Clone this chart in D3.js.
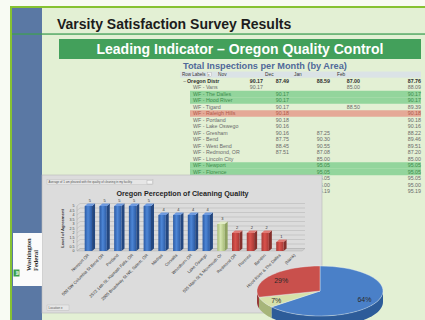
<!DOCTYPE html>
<html>
<head>
<meta charset="utf-8">
<script src="https://cdn.jsdelivr.net/npm/d3@7"></script>
<style>
  html, body { margin: 0; padding: 0; background: #ffffff; overflow: hidden; }
  svg { display: block; font-family: "Liberation Sans", Arial, sans-serif; }
</style>
</head>
<body>
<svg id="slide" width="425" height="320"></svg>
<script>
// ---------- Pivot table: inspections per month by area ----------
const tableMonths = ["Nov", "Dec", "Jan", "Feb"];
// the last three areas sit under the chart panel, so their names are left blank
const tableRowLabels = [
  "Oregon Distr", "WF - Vans", "WF - The Dalles", "WF - Hood River", "WF - Tigard",
  "WF - Raleigh Hills", "WF - Portland", "WF - Lake Oswego", "WF - Gresham", "WF - Bend",
  "WF - West Bend", "WF - Redmond, OR", "WF - Lincoln City", "WF - Newport", "WF - Florence",
  "", "", ""
];
const rowStatus = ["total", "", "high", "high", "", "low", "", "", "", "", "", "", "", "high", "high", "", "", ""];
const novScores   = [90.17, 90.17, null, null, null, null, null, null, null, null, null, null, null, null, null, null, null, null];
const decScores   = [87.49, null, 90.17, 90.17, 90.17, 90.18, 90.18, 90.16, 90.16, 87.75, 88.45, 87.51, null, null, null, null, null, null];
const janScores   = [88.59, null, null, null, null, null, null, null, 87.25, 90.30, 90.55, 87.08, 85.00, 95.05, 95.05, 95.05, 95.00, 95.19];
const febScores   = [87.00, 85.00, null, null, 88.50, null, null, null, null, null, null, null, null, null, null, null, null, null];
const totalScores = [87.76, 88.09, 90.17, 90.17, 89.39, 90.18, 90.18, 90.16, 88.22, 89.46, 89.51, 87.20, 85.00, 95.05, 95.05, 95.05, 95.00, 95.19];

// ---------- Bar chart: perception of cleaning quality ----------
const barCategories = [
  "Newport OR", "500 SW Columbia St Bend OR", "Portland", "2572 14th St, Klamath Falls, OR",
  "2005 Broadway St NE, Salem, OR", "Madras", "Corvallis", "Woodburn OR", "Lake Oswego",
  "535 Main St S Monmouth Or", "Redmond OR", "Florence", "Bandon", "Hood River & The Dalles", "(blank)"
];
const barValues = [5, 5, 5, 5, 5, 4, 4, 4, 4, 3, 2, 2, 2, 1, null];
const agreementTicks = [0, 0.5, 1, 1.5, 2, 2.5, 3, 3.5, 4, 4.5, 5];

// ---------- Pie chart ----------
const pieLabels = ["Agree", "Neutral", "Disagree"];
const pieValues = [64, 7, 29];

const W = 425, H = 320;
const svg = d3.select("#slide");
const defs = svg.append("defs");

// ---------- Slide frame ----------
svg.append("rect").attr("width", W).attr("height", H).attr("fill", "#f8fbf3");
svg.append("rect").attr("x", 11).attr("y", 7).attr("width", W - 11).attr("height", H - 7).attr("fill", "#e3f0d4");
svg.append("rect").attr("x", 10).attr("y", 6).attr("width", W - 10).attr("height", 2).attr("fill", "#86c232");
svg.append("rect").attr("x", 10).attr("y", 6).attr("width", 2).attr("height", H - 6).attr("fill", "#86c232");
svg.append("rect").attr("x", 12).attr("y", 8).attr("width", 30).attr("height", H - 8).attr("fill", "#5a78a4");
svg.append("rect").attr("x", 12).attr("y", 33.4).attr("width", W - 12).attr("height", 1.3).attr("fill", "#3f9e55");

svg.append("text").attr("x", 57).attr("y", 29)
  .attr("font-size", 14).attr("font-weight", "bold").attr("fill", "#1c1c1c")
  .text("Varsity Satisfaction Survey Results");

svg.append("rect").attr("x", 59).attr("y", 39).attr("width", 362).attr("height", 20).attr("fill", "#43a05b");
svg.append("text").attr("x", 240).attr("y", 54).attr("text-anchor", "middle")
  .attr("font-size", 14).attr("font-weight", "bold").attr("fill", "#ffffff")
  .text("Leading Indicator \u2013 Oregon Quality Control");

svg.append("text").attr("x", 183).attr("y", 68.5)
  .attr("font-size", 9.2).attr("font-weight", "bold").attr("fill", "#50699a")
  .text("Total Inspections per Month (by Area)");

// ---------- Pivot table ----------
const rowIndex = d3.range(tableRowLabels.length);
const yRow = d3.scaleBand().domain(rowIndex).range([77.75, 77.75 + 6.5 * rowIndex.length]);
const valueCols = [...tableMonths, "Total"];
const colRight = d3.scaleOrdinal().domain(valueCols).range([263, 289, 330, 360, 421]);
const headLeft = d3.scaleOrdinal().domain(tableMonths).range([218, 265, 294, 337]);
const scoreByCol = { Nov: novScores, Dec: decScores, Jan: janScores, Feb: febScores, Total: totalScores };
const bandFill = { high: "#93d59c", low: "#e5a997" };
const textFill = { high: "#3e8d4c", low: "#b15a4c", total: "#2e2e2e", "": "#6a6a6a" };

const table = svg.append("g").attr("font-size", 5.3);
table.append("rect").attr("x", 180).attr("y", 71.5).attr("width", 241).attr("height", 6.2).attr("fill", "#dbe3e6");
table.append("text").attr("x", 182).attr("y", 76.4).attr("font-size", 4.5).attr("fill", "#333").text("Row Labels");
table.append("rect").attr("x", 207.3).attr("y", 72.4).attr("width", 4.2).attr("height", 4.2)
  .attr("fill", "#f4f4f4").attr("stroke", "#999").attr("stroke-width", 0.3);
table.append("text").attr("x", 209.4).attr("y", 75.9).attr("font-size", 3.4).attr("text-anchor", "middle").attr("fill", "#555").text("\u25BE");
table.selectAll("text.head").data(tableMonths).join("text").attr("class", "head")
  .attr("x", d => headLeft(d)).attr("y", 76.4).attr("font-size", 4.8).attr("fill", "#333").text(d => d);

const rows = table.selectAll("g.row").data(rowIndex).join("g").attr("class", "row");
rows.filter(i => bandFill[rowStatus[i]])
  .append("rect").attr("x", 190).attr("y", i => yRow(i)).attr("width", 231).attr("height", yRow.bandwidth())
  .attr("fill", i => bandFill[rowStatus[i]]);
rows.filter(i => tableRowLabels[i] !== "").append("text")
  .attr("x", i => i === 0 ? 187 : 193)
  .attr("y", i => yRow(i) + 5)
  .attr("font-weight", i => i === 0 ? "bold" : "normal")
  .attr("fill", i => textFill[rowStatus[i]])
  .text(i => tableRowLabels[i]);
rows.filter(i => i === 0).append("text").attr("x", 183).attr("y", i => yRow(i) + 5)
  .attr("fill", "#444").text("\u2212");
valueCols.forEach(col => {
  rows.filter(i => scoreByCol[col][i] != null)
    .append("text")
    .attr("x", colRight(col)).attr("y", i => yRow(i) + 5)
    .attr("text-anchor", "end")
    .attr("font-weight", i => i === 0 ? "bold" : "normal")
    .attr("fill", i => textFill[rowStatus[i]])
    .text(i => scoreByCol[col][i].toFixed(2));
});

// ---------- Bar chart panel ----------
const panel = svg.append("g");
panel.append("rect").attr("x", 42).attr("y", 175).attr("width", 280).attr("height", 138)
  .attr("fill", "#dcdcdc").attr("stroke", "#b8b8b8").attr("stroke-width", 0.6);
panel.append("rect").attr("x", 47).attr("y", 179.5).attr("width", 106).attr("height", 5.2)
  .attr("fill", "#e6e6e6").attr("stroke", "#ababab").attr("stroke-width", 0.3);
panel.append("text").attr("x", 48.5).attr("y", 183.2).attr("font-size", 2.9).attr("fill", "#555")
  .text("Average of 1 am pleased with the quality of cleaning in my facility.");
panel.append("rect").attr("x", 147).attr("y", 180.2).attr("width", 5.4).attr("height", 3.8)
  .attr("fill", "#f3f3f3").attr("stroke", "#999").attr("stroke-width", 0.3);
panel.append("text").attr("x", 182.5).attr("y", 196).attr("text-anchor", "middle")
  .attr("font-size", 7.2).attr("font-weight", "bold").attr("fill", "#262626")
  .text("Oregon Perception of Cleaning Quality");
panel.append("rect").attr("x", 47).attr("y", 305).attr("width", 22).attr("height", 5.2)
  .attr("fill", "#e6e6e6").attr("stroke", "#ababab").attr("stroke-width", 0.3);
panel.append("text").attr("x", 48.5).attr("y", 309).attr("font-size", 3.1).attr("fill", "#555").text("Location \u25BE");

const xBar = d3.scaleBand().domain(barCategories).range([81, 302]).paddingInner(0.5).paddingOuter(0.25);
const yBar = d3.scaleLinear().domain([0, 5]).range([251, 206]);
const dx = 3, dy = -2.5, axisX = 77, wallRight = 305;

// floor and back wall grid
panel.append("path")
  .attr("d", `M${axisX},${yBar(0)} L${wallRight - dx},${yBar(0)} L${wallRight},${yBar(0) + dy} L${axisX + dx},${yBar(0) + dy} Z`)
  .attr("fill", "#cfcfcf").attr("stroke", "#a9a9a9").attr("stroke-width", 0.4);
panel.selectAll("path.grid").data(agreementTicks).join("path").attr("class", "grid")
  .attr("d", v => `M${axisX},${yBar(v)} L${axisX + dx},${yBar(v) + dy} L${wallRight},${yBar(v) + dy}`)
  .attr("fill", "none").attr("stroke", "#b3b3b3").attr("stroke-width", 0.5);
panel.append("line").attr("x1", axisX).attr("x2", axisX).attr("y1", yBar(5)).attr("y2", yBar(0))
  .attr("stroke", "#a0a0a0").attr("stroke-width", 0.5);
panel.selectAll("text.ytick").data(agreementTicks).join("text").attr("class", "ytick")
  .attr("x", axisX - 2.5).attr("y", v => yBar(v) + 1.2).attr("text-anchor", "end")
  .attr("font-size", 3.6).attr("fill", "#444").text(v => d3.format("~g")(v));
panel.append("text").attr("transform", `translate(64,${(yBar(0) + yBar(5)) / 2}) rotate(-90)`)
  .attr("text-anchor", "middle").attr("font-size", 4.2).attr("font-weight", "bold").attr("fill", "#333")
  .text("Level of Agreement");

// bar colours by score band
const barTone = v => v >= 4 ? "blue" : v >= 3 ? "green" : "red";
const tones = {
  blue:  { edge: "#2b5aa3", mid: "#4d86d6", side: "#24477f", top: "#6f9be0" },
  green: { edge: "#a7bd76", mid: "#d6e4b0", side: "#8fa262", top: "#e2ecc6" },
  red:   { edge: "#a93a36", mid: "#d9524c", side: "#85302c", top: "#e07a74" }
};
Object.entries(tones).forEach(([k, t]) => {
  const g = defs.append("linearGradient").attr("id", "bar-" + k).attr("x1", 0).attr("x2", 1).attr("y1", 0).attr("y2", 0);
  g.append("stop").attr("offset", 0).attr("stop-color", t.edge);
  g.append("stop").attr("offset", 0.45).attr("stop-color", t.mid);
  g.append("stop").attr("offset", 1).attr("stop-color", t.edge);
});

const barData = barCategories.map((c, i) => ({ c, v: barValues[i] })).filter(d => d.v != null);
const bars = panel.selectAll("g.bar").data(barData).join("g").attr("class", "bar");
const bw = xBar.bandwidth();
bars.append("path")
  .attr("d", d => {
    const x = xBar(d.c), yt = yBar(d.v), yb = yBar(0);
    return `M${x + bw},${yt} L${x + bw + dx},${yt + dy} L${x + bw + dx},${yb + dy} L${x + bw},${yb} Z`;
  })
  .attr("fill", d => tones[barTone(d.v)].side);
bars.append("rect")
  .attr("x", d => xBar(d.c)).attr("y", d => yBar(d.v))
  .attr("width", bw).attr("height", d => yBar(0) - yBar(d.v))
  .attr("fill", d => `url(#bar-${barTone(d.v)})`);
bars.append("path")
  .attr("d", d => {
    const x = xBar(d.c), yt = yBar(d.v);
    return `M${x},${yt} L${x + dx},${yt + dy} L${x + bw + dx},${yt + dy} L${x + bw},${yt} Z`;
  })
  .attr("fill", d => tones[barTone(d.v)].top);
bars.append("text")
  .attr("x", d => xBar(d.c) + bw / 2 + dx / 2).attr("y", d => yBar(d.v) + dy - 1.3)
  .attr("text-anchor", "middle").attr("font-size", 4).attr("fill", "#333")
  .text(d => d.v);

panel.selectAll("text.xcat").data(barCategories).join("text").attr("class", "xcat")
  .attr("transform", d => `translate(${xBar(d) + bw / 2 + 1},${yBar(0) + 4.5}) rotate(-45)`)
  .attr("text-anchor", "end").attr("font-size", 4.2).attr("fill", "#333")
  .text(d => d);

// ---------- Company logo ----------
const logo = svg.append("g");
logo.append("rect").attr("x", 13).attr("y", 233).attr("width", 29).attr("height", 53).attr("fill", "#fbfbfb");
logo.append("rect").attr("x", 13.5).attr("y", 269.5).attr("width", 6).attr("height", 7).attr("fill", "#3c9f4d");
logo.append("text").attr("transform", "translate(18.8,273) rotate(-90)").attr("text-anchor", "middle")
  .attr("font-size", 4.4).attr("font-weight", "bold").attr("fill", "#ffffff").text("W");
logo.append("text").attr("transform", "translate(31,271) rotate(-90)")
  .attr("font-family", "'Liberation Serif', 'DejaVu Serif', serif").attr("font-size", 6.4)
  .attr("font-weight", "bold").attr("fill", "#2e2e2e").text("Washington");
logo.append("text").attr("transform", "translate(38,271) rotate(-90)")
  .attr("font-family", "'Liberation Serif', 'DejaVu Serif', serif").attr("font-size", 6.4)
  .attr("font-weight", "bold").attr("fill", "#2e2e2e").text("Federal");

// ---------- 3D pie ----------
const cx = 320, cy = 291, rx = 63, ry = 25, depth = 11;
const pieTones = [
  { top: "#4a80c8", side: "#2d5c99" },
  { top: "#d6e1ab", side: "#a6b57a" },
  { top: "#c9504c", side: "#953836" }
];
const arcs = d3.pie().sort(null).value(d => d)(pieValues);
const pt = (a, dyy = 0) => [cx + rx * Math.sin(a), cy - ry * Math.cos(a) + dyy];
const edgePts = (a0, a1, dyy = 0) => d3.range(0, 41).map(k => pt(a0 + (a1 - a0) * k / 40, dyy));
const pieG = svg.append("g");
// visible outer walls (lower half of the ellipse)
arcs.forEach((a, i) => {
  const s = Math.max(a.startAngle, Math.PI / 2), e = Math.min(a.endAngle, 3 * Math.PI / 2);
  if (e <= s) return;
  const top = edgePts(s, e), bottom = edgePts(s, e, depth).reverse();
  pieG.append("path").attr("d", "M" + top.concat(bottom).map(p => p.join(",")).join("L") + "Z")
    .attr("fill", pieTones[i].side);
});
// top faces
arcs.forEach((a, i) => {
  const pts = [[cx, cy]].concat(edgePts(a.startAngle, a.endAngle));
  pieG.append("path").attr("d", "M" + pts.map(p => p.join(",")).join("L") + "Z")
    .attr("fill", pieTones[i].top).attr("stroke", "#e9eef3").attr("stroke-width", 0.4);
});
arcs.forEach((a, i) => {
  const m = (a.startAngle + a.endAngle) / 2;
  pieG.append("text")
    .attr("x", cx + 0.78 * rx * Math.sin(m)).attr("y", cy - 0.75 * ry * Math.cos(m) + 3.5)
    .attr("text-anchor", "middle").attr("font-size", 7).attr("fill", "#2a2a2a")
    .text(Math.round(a.value) + "%");
});
</script>
</body>
</html>
